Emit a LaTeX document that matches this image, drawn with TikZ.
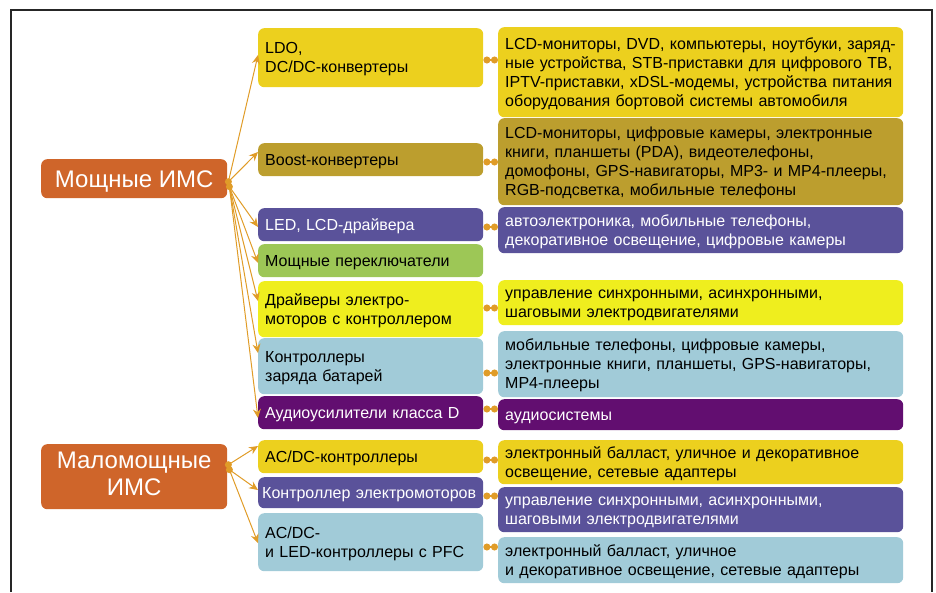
\documentclass[tikz,border=0pt]{standalone}
\usepackage{fontspec}
\setmainfont{Liberation Sans}
\usetikzlibrary{arrows.meta,calc}
\definecolor{cyel}{RGB}{236,208,30}
\definecolor{colive}{RGB}{188,158,46}
\definecolor{cpurp}{RGB}{90,82,154}
\definecolor{cgreen}{RGB}{157,199,86}
\definecolor{cbyel}{RGB}{239,238,30}
\definecolor{clblue}{RGB}{161,203,216}
\definecolor{cdpurp}{RGB}{98,14,112}
\definecolor{corange}{RGB}{207,101,42}
\definecolor{clink}{RGB}{224,156,40}
\tikzset{
  box/.style={rounded corners=6pt, anchor=north west, align=left, inner ysep=0pt,
    execute at begin node={\rule{0pt}{14.5pt}},
    execute at end node={\rule[-3.4pt]{0pt}{3.4pt}}},
  midbox/.style={box, inner xsep=7pt, text width=211pt, font=\fontsize{16}{19}\selectfont},
  rightbox/.style={box, inner xsep=7pt, text width=391pt, font=\fontsize{16}{19}\selectfont},
  leftbox/.style={rounded corners=6pt, anchor=north west, align=center, fill=corange, text=white,
    minimum width=186pt, inner sep=0pt, font=\fontsize{24}{27}\selectfont,
    execute at begin node={\rule{0pt}{21.7pt}},
    execute at end node={\rule[-5.1pt]{0pt}{5.1pt}}},
  arr/.style={draw=clink, line width=1pt, -{Stealth[length=9pt,width=8pt,inset=3pt]}},
  link/.style={draw=clink, line width=1.1pt, {Circle[length=7pt]}-{Circle[length=7pt]}},
  dotc/.style={fill=clink},
  frame/.style={draw=black!85, line width=1.2pt}
}
\begin{document}
\begin{tikzpicture}[x=1pt,y=-1pt]
\useasboundingbox (0,0) rectangle (936,592);
\draw[frame] (11,592) -- (11,10) -- (932,10) -- (932,592);

% left boxes
\node[leftbox, minimum height=39pt] (L1) at (41,159) {Мощные ИМС};
\node[leftbox, minimum height=65pt] (L2) at (41,444) {Маломощные\\ИМС};

% middle boxes
\node[midbox, fill=cyel, minimum height=59pt] (m1) at (258,28) {LDO,\\DC/DC-конвертеры};
\node[midbox, fill=colive, minimum height=33pt] (m2) at (258,143) {Boost-конвертеры};
\node[midbox, fill=cpurp, text=white, minimum height=33pt] (m3) at (258,208) {LED, LCD-драйвера};
\node[midbox, fill=cgreen, minimum height=33pt] (m4) at (258,244) {Мощные переключатели};
\node[midbox, fill=cbyel, minimum height=56pt] (m5) at (258,281) {Драйверы электро-\\моторов с контроллером};
\node[midbox, fill=clblue, minimum height=56pt] (m6) at (258,338) {Контроллеры\\заряда батарей};
\node[midbox, fill=cdpurp, text=white, minimum height=33pt] (m7) at (258,396) {Аудиоусилители класса D};
\node[midbox, fill=cyel, minimum height=33pt] (m8) at (258,440) {AC/DC-контроллеры};
\node[midbox, fill=cpurp, text=white, minimum height=31pt, inner xsep=4pt, text width=217pt] (m9) at (258,477) {Контроллер электромоторов};
\node[midbox, fill=clblue, minimum height=58pt] (m10) at (258,513) {AC/DC-\\и LED-контроллеры с PFC};

% right boxes
\node[rightbox, fill=cyel, minimum height=90pt] (r1) at (498,27) {LCD-мониторы, DVD, компьютеры, ноутбуки, заряд-\\ные устройства, STB-приставки для цифрового ТВ,\\IPTV-приставки, xDSL-модемы, устройства питания\\оборудования бортовой системы автомобиля};
\node[rightbox, fill=colive, minimum height=87pt] (r2) at (498,118) {LCD-мониторы, цифровые камеры, электронные\\книги, планшеты (PDA), видеотелефоны,\\домофоны, GPS-навигаторы, MP3- и MP4-плееры,\\RGB-подсветка, мобильные телефоны};
\node[rightbox, fill=cpurp, text=white, minimum height=46pt] (r3) at (498,207) {автоэлектроника, мобильные телефоны,\\декоративное освещение, цифровые камеры};
\node[rightbox, fill=cbyel, minimum height=45pt] (r4) at (498,280) {управление синхронными, асинхронными,\\шаговыми электродвигателями};
\node[rightbox, fill=clblue, minimum height=66pt] (r5) at (498,331) {мобильные телефоны, цифровые камеры,\\электронные книги, планшеты, GPS-навигаторы,\\MP4-плееры};
\node[rightbox, fill=cdpurp, text=white, minimum height=31pt] (r6) at (498,399) {аудиосистемы};
\node[rightbox, fill=cyel, minimum height=44pt] (r7) at (498,440) {электронный балласт, уличное и декоративное\\освещение, сетевые адаптеры};
\node[rightbox, fill=cpurp, text=white, minimum height=45pt] (r8) at (498,487) {управление синхронными, асинхронными,\\шаговыми электродвигателями};
\node[rightbox, fill=clblue, minimum height=46pt] (r9) at (498,537) {электронный балласт, уличное\\и декоративное освещение, сетевые адаптеры};

% links middle -> right
\draw[link] (m1.east |- 0,60) -- (r1.west |- 0,60);
\draw[link] (m2.east |- 0,162) -- (r2.west |- 0,162);
\draw[link] (m3.east |- 0,227) -- (r3.west |- 0,227);
\draw[link] (m5.east |- 0,308) -- (r4.west |- 0,308);
\draw[link] (m6.east |- 0,373) -- (r5.west |- 0,373);
\draw[link] (m7.east |- 0,409) -- (r6.west |- 0,409);
\draw[link] (m8.east |- 0,460) -- (r7.west |- 0,460);
\draw[link] (m9.east |- 0,496) -- (r8.west |- 0,496);
\draw[link] (m10.east |- 0,547) -- (r9.west |- 0,547);

% arrows from left boxes
\coordinate (o1) at ($(L1.east)+(1,3)$);
\coordinate (o2) at ($(L1.east)+(2,8)$);
\coordinate (o3) at ($(L2.east)+(1,-12)$);
\coordinate (o4) at ($(L2.east)+(2,-7)$);
\draw[arr] (o1) -- (m1.west |- 0,55);
\draw[arr] (o1) -- (m2.west |- 0,152);
\draw[arr] (o2) -- (m3.west |- 0,227);
\draw[arr] (o2) -- (m4.west |- 0,263);
\draw[arr] (o2) -- (m5.west |- 0,301);
\draw[arr] (o2) -- (m6.west |- 0,353);
\draw[arr] (o2) -- (m7.west |- 0,418);
\draw[arr] (o3) -- (m8.west |- 0,446);
\draw[arr] (o4) -- (m9.west |- 0,490);
\draw[arr] (o4) -- (m10.west |- 0,543);
\fill[dotc] (o1) circle (3.5pt);
\fill[dotc] (o2) circle (3.5pt);
\fill[dotc] (o3) circle (3.5pt);
\fill[dotc] (o4) circle (3.5pt);
\end{tikzpicture}
\end{document}
